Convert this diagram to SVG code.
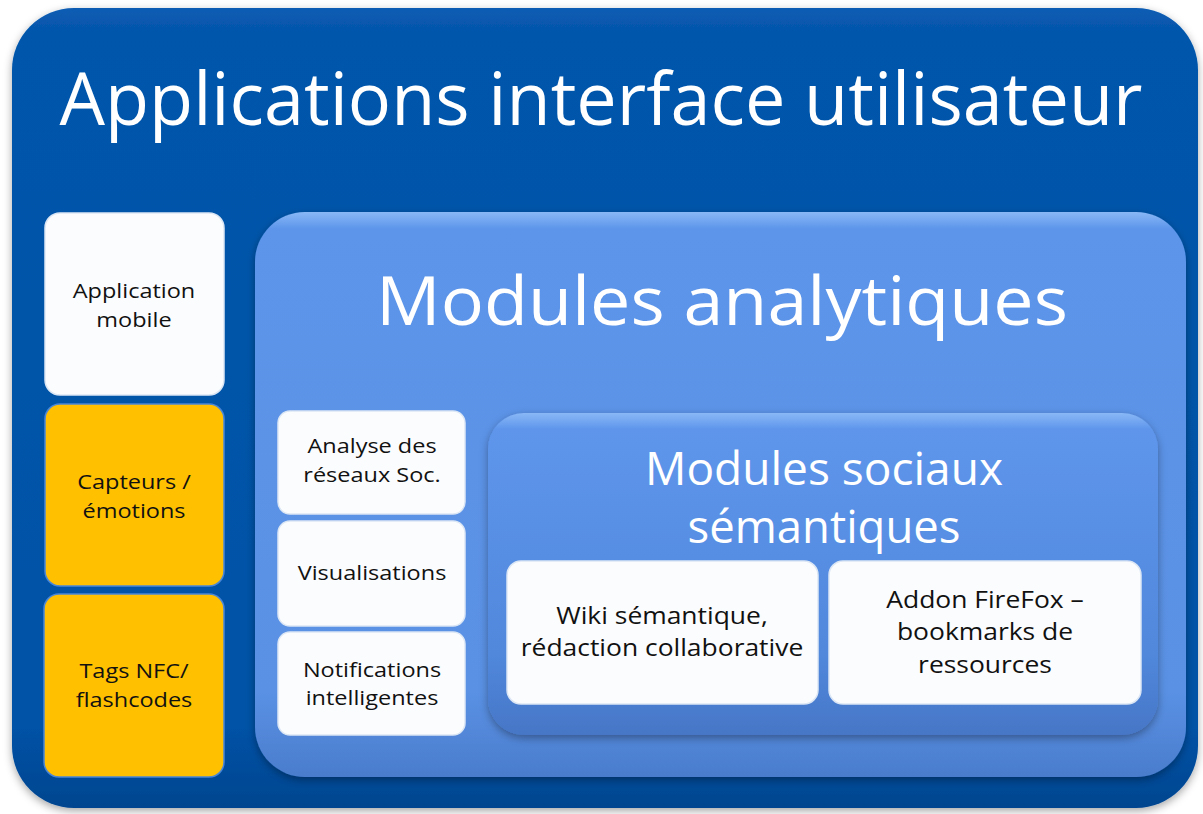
<svg xmlns="http://www.w3.org/2000/svg" width="1203" height="814" viewBox="0 0 1203 814">
<style>
.title{font-family:"Open Sans","Liberation Sans",sans-serif;fill:#fff;text-anchor:middle}
.lbl{font-family:"Open Sans","Liberation Sans",sans-serif;font-size:20.5px;fill:#111;text-anchor:middle}
.big{font-size:23px}
.white{fill:#fbfcfd;stroke:#dbe6f5;stroke-width:1.5}
.yellow{fill:#ffc000;stroke:#4a86d6;stroke-width:1.5}
</style>
<defs>
<linearGradient id="gOuter" x1="0" y1="0" x2="0" y2="1">
<stop offset="0" stop-color="#0a5cb4"/><stop offset="0.03" stop-color="#0556ab"/><stop offset="0.9" stop-color="#0552a6"/><stop offset="1" stop-color="#03458f"/>
</linearGradient>
<linearGradient id="gMid" x1="0" y1="0" x2="0" y2="1">
<stop offset="0" stop-color="#8ab8f6"/><stop offset="0.03" stop-color="#5c95ea"/><stop offset="0.85" stop-color="#5a91e4"/><stop offset="1" stop-color="#4a7ccc"/>
</linearGradient>
<linearGradient id="gIn" x1="0" y1="0" x2="0" y2="1">
<stop offset="0" stop-color="#8ab8f6"/><stop offset="0.05" stop-color="#5e96ec"/><stop offset="0.75" stop-color="#5188dc"/><stop offset="1" stop-color="#4676c6"/>
</linearGradient>
<filter id="sh" x="-10%" y="-10%" width="120%" height="120%">
<feDropShadow dx="0" dy="3" stdDeviation="4" flood-color="#000" flood-opacity="0.35"/>
</filter>
</defs>
<rect width="1203" height="814" fill="#ffffff"/>
<g id="outer">
<rect x="12" y="8" width="1186" height="800" rx="62" fill="url(#gOuter)" filter="url(#sh)"/>
<text class="title" x="601" y="125" font-size="74" textLength="1083" lengthAdjust="spacingAndGlyphs">Applications interface utilisateur</text>
</g>
<g id="app-mobile">
<rect class="white" x="45" y="213" width="179" height="182" rx="15"/>
<g transform="translate(134 0) scale(1.146 1)">
<text class="lbl" x="0" y="298">Application</text>
<text class="lbl" x="0" y="327">mobile</text>
</g>
</g>
<g id="capteurs">
<rect class="yellow" x="45" y="404" width="179" height="182" rx="15"/>
<g transform="translate(134 0) scale(1.146 1)">
<text class="lbl" x="0" y="489">Capteurs /</text>
<text class="lbl" x="0" y="518">émotions</text>
</g>
</g>
<g id="tags">
<rect class="yellow" x="44" y="594" width="180" height="183" rx="15"/>
<g transform="translate(134 0) scale(1.146 1)">
<text class="lbl" x="0" y="678">Tags NFC/</text>
<text class="lbl" x="0" y="707">flashcodes</text>
</g>
</g>
<g id="modules-analytiques">
<rect x="255" y="212" width="931" height="565" rx="50" fill="url(#gMid)" filter="url(#sh)"/>
<text class="title" x="722" y="325" font-size="68" textLength="692" lengthAdjust="spacingAndGlyphs">Modules analytiques</text>
</g>
<g id="analyse">
<rect class="white" x="278" y="411" width="187" height="103" rx="12"/>
<g transform="translate(372 0) scale(1.146 1)">
<text class="lbl" x="0" y="453">Analyse des</text>
<text class="lbl" x="0" y="482">réseaux Soc.</text>
</g>
</g>
<g id="visualisations">
<rect class="white" x="278" y="521" width="187" height="105" rx="12"/>
<g transform="translate(372 0) scale(1.146 1)">
<text class="lbl" x="0" y="580">Visualisations</text>
</g>
</g>
<g id="notifications">
<rect class="white" x="278" y="632" width="187" height="103" rx="12"/>
<g transform="translate(372 0) scale(1.146 1)">
<text class="lbl" x="0" y="677">Notifications</text>
<text class="lbl" x="0" y="705">intelligentes</text>
</g>
</g>
<g id="modules-sociaux">
<rect x="488" y="413" width="670" height="322" rx="36" fill="url(#gIn)" filter="url(#sh)"/>
<text class="title" x="824" y="485" font-size="46" textLength="358" lengthAdjust="spacingAndGlyphs">Modules sociaux</text>
<text class="title" x="824" y="543" font-size="46" textLength="273" lengthAdjust="spacingAndGlyphs">sémantiques</text>
</g>
<g id="wiki">
<rect class="white" x="507" y="561" width="311" height="143" rx="14"/>
<g transform="translate(662 0) scale(1.15 1)">
<text class="lbl big" x="0" y="624">Wiki sémantique,</text>
<text class="lbl big" x="0" y="656">rédaction collaborative</text>
</g>
</g>
<g id="addon">
<rect class="white" x="829" y="561" width="312" height="143" rx="14" stroke="#3f7fd0"/>
<g transform="translate(985 0) scale(1.15 1)">
<text class="lbl big" x="0" y="608">Addon FireFox –</text>
<text class="lbl big" x="0" y="640">bookmarks de</text>
<text class="lbl big" x="0" y="673">ressources</text>
</g>
</g>
<g id="connectors"></g>
</svg>
